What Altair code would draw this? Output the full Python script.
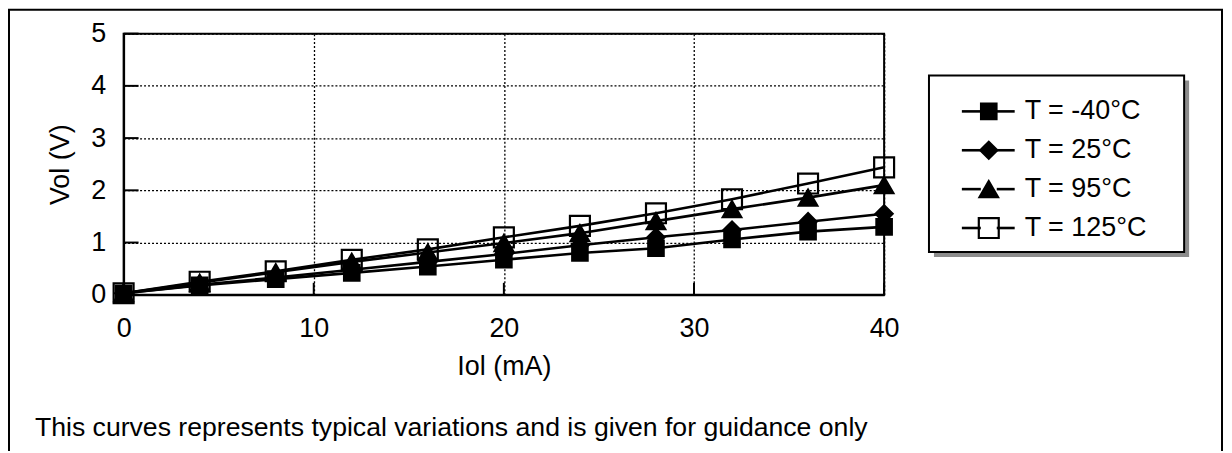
import altair as alt
import pandas as pd

# ---- data ----
iol = [0, 4, 8, 12, 16, 20, 24, 28, 32, 36, 40]
vol_m40 = [0.03, 0.18, 0.30, 0.42, 0.54, 0.67, 0.80, 0.89, 1.06, 1.21, 1.30]
vol_25 = [0.03, 0.19, 0.33, 0.48, 0.63, 0.78, 0.95, 1.10, 1.24, 1.40, 1.55]
vol_95 = [0.03, 0.23, 0.43, 0.63, 0.81, 0.99, 1.18, 1.41, 1.64, 1.86, 2.10]
vol_125 = [0.03, 0.25, 0.45, 0.67, 0.87, 1.10, 1.32, 1.56, 1.83, 2.13, 2.44]
series = ["T = -40°C", "T = 25°C", "T = 95°C", "T = 125°C"]
x_ticks = [0, 10, 20, 30, 40]
y_ticks = [0, 1, 2, 3, 4, 5]
x_title = "Iol (mA)"
y_title = "Vol (V)"
footer = ["This curves represents typical variations and is given for guidance only"]

# ---- styling ----
shapes = ["square", "diamond", "triangle-up", "square"]
fills = ["black", "black", "black", "transparent"]
sizes = [240, 400, 340, 220]
FONT = "Liberation Sans"
FS = 27
W, H = 763, 262

rows = []
for s, vals in zip(series, [vol_m40, vol_25, vol_95, vol_125]):
    for xi, v in zip(iol, vals):
        rows.append({"series": s, "iol": xi, "vol": v})
df = pd.DataFrame(rows)
df_pts = df.iloc[::-1].reset_index(drop=True)  # filled markers end up on top

xs = alt.Scale(domain=[0, 40], nice=False, zero=False)
ys = alt.Scale(domain=[0, 5], nice=False, zero=False)


def X(field):
    return alt.X(field, scale=xs, title=x_title,
                 axis=alt.Axis(values=x_ticks, labelPadding=21, titlePadding=12,
                               labelFlush=False))


def Y(field):
    return alt.Y(field, scale=ys, title=y_title,
                 axis=alt.Axis(values=y_ticks, labelPadding=18, titlePadding=16,
                               labelFlush=False))


shape_enc = alt.Shape("series:N", scale=alt.Scale(domain=series, range=shapes), legend=None)
fill_enc = alt.Fill("series:N", scale=alt.Scale(domain=series, range=fills), legend=None)
size_enc = alt.Size("series:N", scale=alt.Scale(domain=series, range=sizes), legend=None)

lines = alt.Chart(df).mark_line(color="black", strokeWidth=2.6).encode(
    x=X("iol:Q"), y=Y("vol:Q"), detail="series:N")
points = alt.Chart(df_pts).mark_point(filled=True, stroke="black", strokeWidth=2.2,
                                      opacity=1, fillOpacity=1).encode(
    x=X("iol:Q"), y=Y("vol:Q"), shape=shape_enc, fill=fill_enc, size=size_enc)

ydf = pd.DataFrame({"v": y_ticks})
xdf = pd.DataFrame({"v": x_ticks})
yticks = alt.Chart(ydf).mark_rule(color="black", strokeWidth=2).encode(
    y=Y("v:Q"), x=alt.value(0), x2=alt.value(15))
xticks = alt.Chart(xdf).mark_rule(color="black", strokeWidth=2).encode(
    x=X("v:Q"), y=alt.value(H), y2=alt.value(H - 12))

plot = alt.layer(lines, yticks, xticks, points)

# ---- legend, frame and footer ----
one = pd.DataFrame({"k": [0]})
leg_df = pd.DataFrame({"series": series, "row": list(range(len(series)))})
leg_y = alt.Y("row:Q", scale=alt.Scale(domain=[0, 3], range=[78, 195], nice=False, zero=False),
              axis=None)

frame = alt.Chart(one).mark_rect(fillOpacity=0, stroke="black", strokeWidth=2).encode(
    x=alt.value(-115), x2=alt.value(1102), y=alt.value(-24), y2=alt.value(520))
shadow = alt.Chart(one).mark_rect(fill="#8c8c8c").encode(
    x=alt.value(813), x2=alt.value(1069), y=alt.value(47), y2=alt.value(224))
box = alt.Chart(one).mark_rect(fill="white", stroke="black", strokeWidth=2).encode(
    x=alt.value(808), x2=alt.value(1064), y=alt.value(42), y2=alt.value(219))
stub_l = alt.Chart(leg_df).mark_rule(color="black", strokeWidth=2.6).encode(
    y=leg_y, x=alt.value(841), x2=alt.value(860))
stub_r = alt.Chart(leg_df).mark_rule(color="black", strokeWidth=2.6).encode(
    y=leg_y, x=alt.value(876), x2=alt.value(894))
legpts = alt.Chart(leg_df).mark_point(filled=True, stroke="black", strokeWidth=2.2,
                                      opacity=1, fillOpacity=1).encode(
    y=leg_y, x=alt.value(868), shape=shape_enc, fill=fill_enc, size=size_enc)
leglabels = alt.Chart(leg_df).mark_text(align="left", baseline="middle", font=FONT,
                                        fontSize=FS, color="black").encode(
    y=leg_y, x=alt.value(904), text="series:N")
foot = alt.Chart(pd.DataFrame({"t": footer})).mark_text(
    align="left", baseline="alphabetic", font=FONT, fontSize=26.7, color="black").encode(
    x=alt.value(-89), y=alt.value(404), text="t:N")

deco = alt.layer(frame, shadow, box, stub_l, stub_r, legpts, leglabels, foot)

chart = alt.layer(plot, deco).resolve_scale(y="independent").properties(
    width=W, height=H,
    autosize=alt.AutoSizeParams(type="none"),
    padding={"left": 116, "top": 25, "right": 341, "bottom": 156},
).configure_view(stroke="black", strokeWidth=2).configure_axis(
    domainColor="black", domainWidth=2, ticks=False, grid=True,
    gridColor="black", gridDash=[2, 2], gridWidth=1.3,
    labelFont=FONT, labelFontSize=FS, labelColor="black",
    titleFont=FONT, titleFontSize=FS, titleFontWeight="normal", titleColor="black",
)

chart.save("out.html", embed_options={"renderer": "svg", "actions": False})
